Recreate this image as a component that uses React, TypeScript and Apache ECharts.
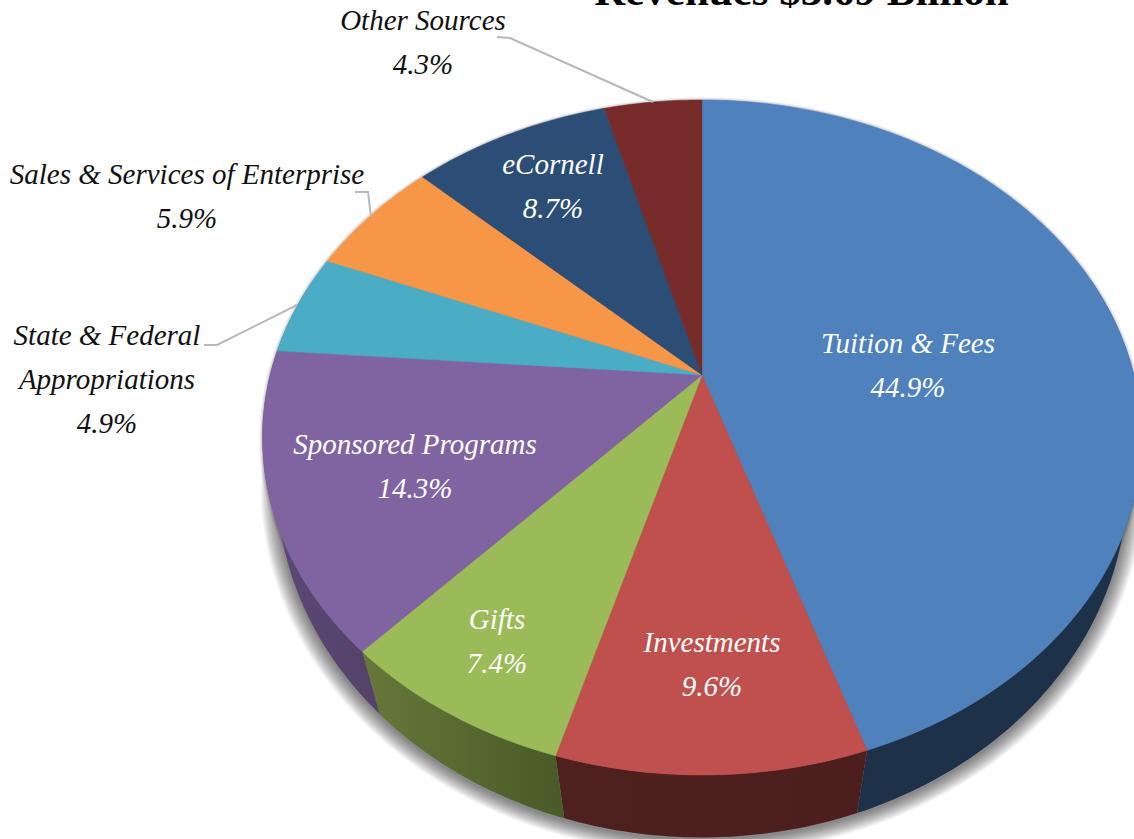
import React, { useEffect, useRef } from "react";
import * as echarts from "echarts";

// ---------- data ----------
const categories = [
  "Tuition & Fees",
  "Investments",
  "Gifts",
  "Sponsored Programs",
  "State & Federal\nAppropriations",
  "Sales & Services of Enterprise",
  "eCornell",
  "Other Sources",
];
const shares = [44.9, 9.6, 7.4, 14.3, 4.9, 5.9, 8.7, 4.3];
const chartTitle = "Revenues $3.69 Billion";

// ---------- styles and layout ----------
const topColors = ["#4f81bd", "#c0504d", "#9bbb59", "#8064a2", "#4bacc6", "#f79646", "#2c4d75", "#772c2a"];
const wallColors: [string, string][] = [
  ["#1d3149", "#1d3149"],
  ["#4e201e", "#4c1f1e"],
  ["#66793a", "#485a26"],
  ["#5c4878", "#544268"],
  ["#2c6a7c", "#2c6a7c"],
  ["#9a5a28", "#9a5a28"],
  ["#1a2f48", "#1a2f48"],
  ["#481a18", "#481a18"],
];
const labelColors = ["#fff", "#fff", "#fff", "#fff", "#111", "#111", "#fff", "#111"];
const labelAnchors = [
  [908, 365], [712, 664], [497, 641], [415, 466], [107, 379], [187, 196], [553, 186], [423, 42],
];
const leaderLines = [
  [[497, 37], [510, 38], [653, 102]],
  [[355, 192], [368, 192], [371, 217]],
  [[204, 345], [217, 345], [297, 305]],
];
const FONT = "'Liberation Serif', serif";
const APEX_X = 702;
const topPlane = { ay: 375, rx: 432, ry: 326, k: 0.185 };
const lowPlane = { ay: 428, rx: 420, ry: 346, k: 0.155 };
const SHADOW_STEPS = 16;

const project = (p: typeof topPlane, pct: number) => {
  const t = (pct / 100) * Math.PI * 2;
  const u = Math.sin(t);
  const v = -Math.cos(t);
  const w = 1 - p.k * v;
  return [APEX_X + (p.rx * u) / w, p.ay + (p.ry * v) / w];
};
const arc = (p: typeof topPlane, a: number, b: number) => {
  const pts: number[][] = [];
  const n = Math.max(2, Math.ceil(Math.abs(b - a) * 4));
  for (let i = 0; i <= n; i++) pts.push(project(p, a + ((b - a) * i) / n));
  return pts;
};

const spans: number[][] = [];
shares.reduce((acc, s, i) => {
  spans.push([acc, acc + s, i]);
  return acc + s;
}, 0);

export default function App() {
  const ref = useRef<HTMLDivElement>(null);
  useEffect(() => {
    document.body.style.margin = "0";
    const chart = echarts.init(ref.current!, null, { renderer: "svg" });
    const shadowLayers: any[] = [];
    for (let d = SHADOW_STEPS; d >= 1; d--) {
      shadowLayers.push({
        type: "polygon",
        shape: {
          points: arc({ ...lowPlane, ay: lowPlane.ay + 2, rx: lowPlane.rx + d, ry: lowPlane.ry + d * 0.8 }, 0, 100),
        },
        style: { fill: "rgba(0,0,0,0.035)" },
      });
    }
    for (let d = 3; d >= 1; d--) {
      shadowLayers.push({
        type: "polygon",
        shape: { points: arc({ ...topPlane, rx: topPlane.rx + d, ry: topPlane.ry + d }, 0, 100) },
        style: { fill: "rgba(0,0,0,0.06)" },
      });
    }
    chart.setOption({
      animation: false,
      backgroundColor: "#ffffff",
      graphic: [
        {
          type: "text",
          z: 10,
          style: {
            text: chartTitle,
            x: 801.5,
            y: -31.5,
            align: "center",
            verticalAlign: "top",
            fontFamily: FONT,
            fontWeight: "bold",
            fontSize: 43,
            fill: "#000",
          },
        },
        ...leaderLines.map((pts) => ({
          type: "polyline",
          z: 10,
          shape: { points: pts },
          style: { stroke: "#b8b8b8", lineWidth: 2, fill: "none" },
        })),
      ],
      series: [
        {
          // soft shadow under the whole disc
          type: "custom",
          coordinateSystem: "none",
          silent: true,
          z: 1,
          data: [[0, 100]],
          renderItem: () => ({ type: "group", children: shadowLayers }),
        },
        {
          // side walls
          type: "custom",
          coordinateSystem: "none",
          silent: true,
          z: 2,
          data: spans,
          renderItem: (_: any, api: any) => {
            const a = api.value(0);
            const b = api.value(1);
            const i = api.value(2);
            const from = Math.max(a, 20);
            const to = Math.min(b, 80);
            if (to <= from) return { type: "group", children: [] };
            const pts = [...arc(topPlane, from, to), ...arc(lowPlane, from, to).reverse()];
            return {
              type: "polygon",
              shape: { points: pts },
              style: {
                fill: new echarts.graphic.LinearGradient(0, 0, 1, 0, [
                  { offset: 0, color: wallColors[i][0] },
                  { offset: 1, color: wallColors[i][1] },
                ]),
              },
            };
          },
        },
        {
          // top face and labels
          type: "custom",
          coordinateSystem: "none",
          z: 3,
          data: spans,
          renderItem: (_: any, api: any) => {
            const a = api.value(0);
            const b = api.value(1);
            const i = api.value(2);
            const pts = [[APEX_X, topPlane.ay], ...arc(topPlane, a, b)];
            return {
              type: "group",
              children: [
                {
                  type: "polygon",
                  z2: 1,
                  shape: { points: pts },
                  style: { fill: topColors[i], stroke: topColors[i], lineWidth: 0.5 },
                },
                {
                  type: "text",
                  z2: 100 + i,
                  style: {
                    text: `${categories[i]}\n${shares[i].toFixed(1)}%`,
                    x: labelAnchors[i][0],
                    y: labelAnchors[i][1],
                    align: "center",
                    verticalAlign: "middle",
                    fontFamily: FONT,
                    fontStyle: "italic",
                    fontSize: 29,
                    lineHeight: 44,
                    fill: labelColors[i],
                  },
                },
              ],
            };
          },
        },
      ],
    });
    return () => chart.dispose();
  }, []);
  return <div ref={ref} style={{ position: "fixed", left: 0, top: 0, width: 1134, height: 839 }} />;
}
